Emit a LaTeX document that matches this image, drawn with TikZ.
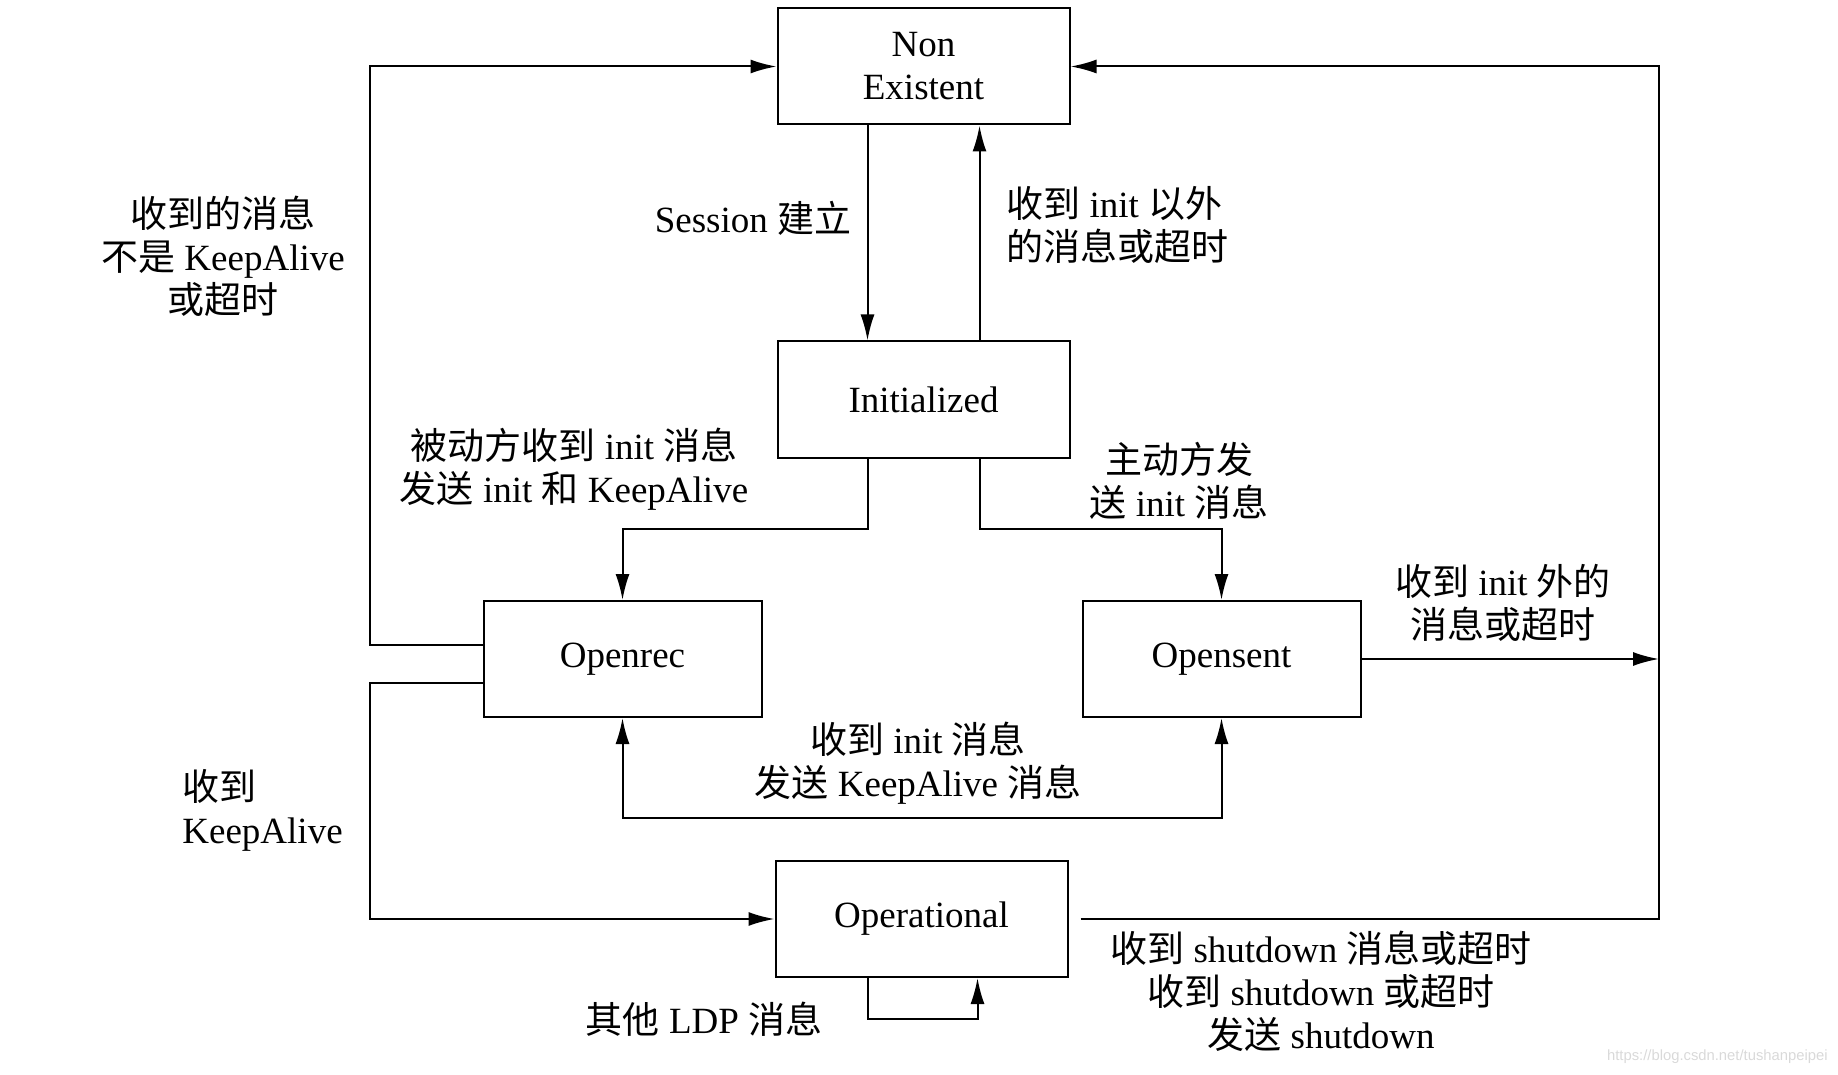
\documentclass[tikz,border=0pt]{standalone}
\usepackage{fontspec}
\setmainfont{Liberation Serif}
\newfontfamily\cjk{Noto Sans CJK SC}
\newfontfamily\wmfont{Liberation Sans}
\usetikzlibrary{arrows.meta}
\newcommand{\zh}[1]{{\cjk #1}}

\begin{document}
\begin{tikzpicture}[x=0.5pt,y=-0.5pt,
    state/.style={draw,line width=1pt,minimum width=146pt,minimum height=58pt,align=center,
      font=\fontsize{18.5}{21.5}\selectfont},
    side/.style={state,minimum width=139pt},
    lbl/.style={align=center,inner sep=0pt,font=\fontsize{18.5}{21.5}\selectfont},
    arr/.style={line width=1pt,-{Latex[length=13pt,width=7pt]}},
    arrs/.style={line width=1pt,{Latex[length=13pt,width=7pt]}-{Latex[length=13pt,width=7pt]}}]
  \useasboundingbox (0,0) rectangle (1838,1075);
  % states
  \node[state] (ne) at (923.5,66.5) {Non\\Existent};
  \node[state] (init) at (923.5,399.5) {Initialized};
  \node[side] (orec) at (622.5,659) {Openrec};
  \node[side] (osent) at (1221.5,659) {Opensent};
  \node[state] (oper) at (921.5,919) {Operational};
  % rails and turning points
  \coordinate (leftrail) at (370,0);
  \coordinate (rightrail) at (1659,0);
  \coordinate (split) at (923.5,529);
  \coordinate (loop) at (921,818);
  \coordinate (self) at (921.5,1019);
  % NonExistent <-> Initialized
  \draw[arr] ([xshift=-28pt]ne.south) -- ([xshift=-28pt]init.north);
  \draw[arr] ([xshift=28pt]init.north) -- ([xshift=28pt]ne.south);
  % Initialized -> Openrec / Opensent
  \draw[arr] ([xshift=-28pt]init.south) -- ([xshift=-28pt]split) -| (orec.north);
  \draw[arr] ([xshift=28pt]init.south) -- ([xshift=28pt]split) -| (osent.north);
  % Openrec <-> Opensent
  \draw[arrs] (orec.south) |- (loop) -| (osent.south);
  % left side
  \draw[arr] ([yshift=7pt]orec.west) -| (ne.west -| leftrail) -- (ne.west);
  \draw[arr] ([yshift=-12pt]orec.west) -| (oper.west -| leftrail) -- (oper.west);
  % right side
  \draw[arr] (osent.east) -- (osent.east -| rightrail);
  \draw[arr] ([xshift=6pt]oper.east) -| (ne.east -| rightrail) -- (ne.east);
  % Operational self loop
  \draw[arr] ([xshift=-27pt]oper.south) -- ([xshift=-27pt]self) -- ([xshift=28pt]self) -- ([xshift=28pt]oper.south);
  % labels
  \node[lbl] (l1) at (223,256) {\zh{收到的消息}\\\zh{不是} KeepAlive\\\zh{或超时}};
  \node[lbl] (l2) at (753,218) {Session \zh{建立}};
  \node[lbl,anchor=west,align=left] (l3) at (1006,225) {\zh{收到} init \zh{以外}\\\zh{的消息或超时}};
  \node[lbl] (l4) at (574,469) {\zh{被动方收到} init \zh{消息}\\\zh{发送} init \zh{和} KeepAlive};
  \node[lbl] (l5) at (1179,481) {\zh{主动方发}\\\zh{送} init \zh{消息}};
  \node[lbl] (l6) at (1503,603) {\zh{收到} init \zh{外的}\\\zh{消息或超时}};
  \node[lbl] (l7) at (918,763) {\zh{收到} init \zh{消息}\\\zh{发送} KeepAlive \zh{消息}};
  \node[lbl,anchor=west,align=left] (l8) at (182,810) {\zh{收到}\\KeepAlive};
  \node[lbl] (l9) at (704,1019) {\zh{其他} LDP \zh{消息}};
  \node[lbl] (l10) at (1321,991) {\zh{收到} shutdown \zh{消息或超时}\\\zh{收到} shutdown \zh{或超时}\\\zh{发送} shutdown};
  \node[anchor=east,inner sep=0pt,text=black!15,font=\wmfont\fontsize{7.4}{8}\selectfont] (wm) at (1828,1057) {https://blog.csdn.net/tushanpeipei};
\end{tikzpicture}
\end{document}
